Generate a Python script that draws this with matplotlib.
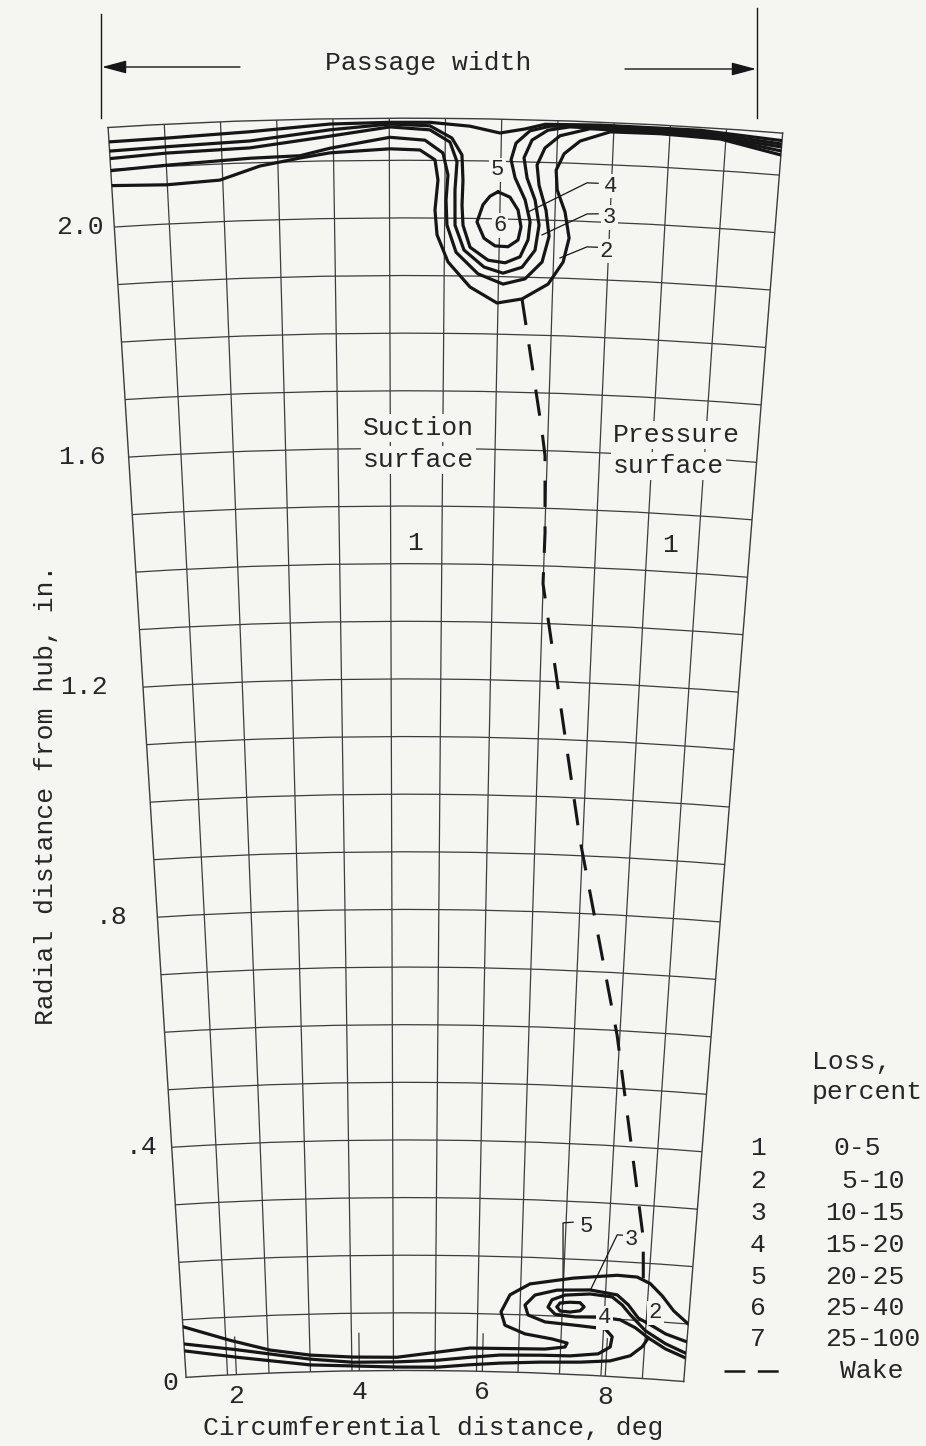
import numpy as np
import matplotlib
matplotlib.use("Agg")
import matplotlib.pyplot as plt

plt.rcParams["font.family"] = ["Liberation Mono", "DejaVu Sans Mono"]
plt.rcParams["lines.scale_dashes"] = False

# ---- chart frame: circumferential position in deg, radial distance from hub in in. ----
deg_left, deg_right = 1.18, 9.28      # edges of the survey grid
deg_up = 4.75                          # circumferential position that points straight up
hub_radius = 6.114                     # in.
span = 2.173                           # hub to casing, in.

grid_deg = np.linspace(deg_left, deg_right, 13)[1:-1]
grid_in = np.round(np.arange(0.1, 2.15, 0.1), 1)
r_ticks = [0.0, 0.4, 0.8, 1.2, 1.6, 2.0]
r_labels = ["0", ".4", ".8", "1.2", "1.6", "2.0"]
deg_ticks = [2, 4, 6, 8]

# ---- loss contours near the casing ----
tip_a_deg = [1.18, 1.876, 2.879, 3.843, 4.564, 5.044, 5.525, 5.887, 6.187, 6.426, 7.087, 8.292, 9.28]
tip_a_in = [2.148, 2.149, 2.154, 2.164, 2.166, 2.166, 2.160, 2.149, 2.157, 2.166, 2.168, 2.168, 2.160]

tip_b_deg = [1.18, 1.871, 2.875, 3.842, 4.564, 5.044, 5.310, 5.433, 5.449, 5.441, 5.456, 5.546, 5.770,
             5.982, 6.165, 6.259, 6.278, 6.210, 6.081, 6.028, 6.083, 6.248, 6.487, 7.088, 8.294, 9.28]
tip_b_in = [2.132, 2.134, 2.138, 2.154, 2.163, 2.160, 2.139, 2.110, 2.066, 2.023, 1.988, 1.950, 1.928,
            1.924, 1.935, 1.965, 1.996, 2.034, 2.072, 2.103, 2.132, 2.154, 2.163, 2.165, 2.165, 2.154]

tip_c_deg = [1.18, 1.867, 2.872, 3.841, 4.564, 5.044, 5.287, 5.374, 5.353, 5.358, 5.472, 5.722, 5.959,
             6.193, 6.348, 6.389, 6.332, 6.227, 6.184, 6.275, 6.464, 6.727, 7.329, 8.295, 9.28]
tip_c_in = [2.119, 2.123, 2.126, 2.143, 2.158, 2.153, 2.132, 2.098, 2.049, 1.988, 1.945, 1.916, 1.906,
            1.917, 1.947, 1.991, 2.034, 2.072, 2.107, 2.138, 2.156, 2.163, 2.162, 2.161, 2.149]

tip_d_deg = [1.18, 1.860, 2.868, 3.474, 3.838, 4.563, 4.985, 5.203, 5.266, 5.245, 5.259, 5.374, 5.649,
             5.962, 6.234, 6.439, 6.516, 6.469, 6.375, 6.344, 6.434, 6.611, 6.969, 7.570, 8.417, 9.28]
tip_d_in = [2.098, 2.102, 2.108, 2.110, 2.122, 2.140, 2.135, 2.113, 2.075, 2.031, 1.988, 1.941, 1.904,
            1.887, 1.897, 1.927, 1.972, 2.017, 2.060, 2.095, 2.125, 2.147, 2.161, 2.160, 2.159, 2.142]

tip_e_deg = [1.18, 1.848, 2.495, 2.987, 3.474, 3.837, 4.563, 4.925, 5.107, 5.145, 5.111, 5.138, 5.276,
             5.552, 5.892, 6.203, 6.522, 6.699, 6.763, 6.702, 6.597, 6.577, 6.667, 6.855, 7.212, 7.812,
             8.540, 9.28]
tip_e_in = [2.072, 2.068, 2.072, 2.094, 2.106, 2.114, 2.120, 2.118, 2.101, 2.066, 2.014, 1.971, 1.924,
            1.881, 1.854, 1.862, 1.889, 1.928, 1.970, 2.015, 2.053, 2.087, 2.116, 2.139, 2.157, 2.158,
            2.155, 2.135]

tip_core_deg = [5.877, 6.025, 6.127, 6.168, 6.135, 6.014, 5.854, 5.716, 5.627, 5.697, 5.781, 5.877]
tip_core_in = [2.047, 2.038, 2.016, 1.987, 1.964, 1.952, 1.953, 1.966, 1.994, 2.024, 2.039, 2.047]

# ---- loss contours near the hub ----
hub_a_deg = [9.28, 9.030, 8.835, 8.631, 8.417, 8.098, 7.404, 6.726, 6.414, 6.278, 6.347, 6.673, 7.111,
             7.356, 7.326, 7.005, 6.601, 5.792, 5.260, 4.612, 3.900, 3.204, 2.559, 1.921, 1.18]
hub_a_in = [0.100, 0.121, 0.145, 0.165, 0.175, 0.176, 0.167, 0.154, 0.134, 0.104, 0.081, 0.067, 0.060,
            0.054, 0.047, 0.042, 0.041, 0.040, 0.032, 0.023, 0.024, 0.029, 0.040, 0.060, 0.088]

hub_b_deg = [9.28, 8.928, 8.675, 8.475, 8.302, 8.117, 7.683, 7.159, 6.812, 6.658, 6.711, 6.988, 7.552,
             7.956, 8.076, 8.053, 7.866, 7.414, 6.928, 6.280, 5.795, 5.261, 4.612, 3.898, 3.202, 2.026, 1.18]
hub_b_in = [0.069, 0.080, 0.094, 0.104, 0.126, 0.142, 0.148, 0.145, 0.135, 0.117, 0.100, 0.089, 0.085,
            0.082, 0.069, 0.051, 0.038, 0.032, 0.031, 0.029, 0.024, 0.018, 0.015, 0.015, 0.022, 0.043, 0.058]

hub_c_deg = [9.28, 8.938, 8.601, 8.344, 8.206, 8.039, 7.686, 7.289, 7.085, 7.026, 7.143, 7.465, 7.865,
             8.189, 8.438, 8.657, 8.944, 9.28]
hub_c_in = [0.049, 0.063, 0.083, 0.109, 0.125, 0.138, 0.141, 0.137, 0.128, 0.115, 0.103, 0.100, 0.102,
            0.099, 0.087, 0.071, 0.054, 0.041]

hub_d_deg = [1.18, 2.020, 3.199, 4.612, 5.262, 5.797, 6.283, 6.932, 7.581, 8.066, 8.386, 8.570, 8.657]
hub_d_in = [0.046, 0.030, 0.012, 0.006, 0.006, 0.011, 0.015, 0.019, 0.022, 0.027, 0.038, 0.055, 0.071]

hub_core_deg = [7.170, 7.215, 7.374, 7.534, 7.601, 7.540, 7.381, 7.221, 7.170]
hub_core_in = [0.116, 0.123, 0.125, 0.125, 0.118, 0.111, 0.108, 0.109, 0.116]

# ---- blade wake ----
wake_deg = [6.203, 6.502, 6.551, 6.583, 6.578, 7.216, 7.891, 8.472]
wake_in = [1.862, 1.634, 1.591, 1.457, 1.369, 0.927, 0.591, 0.243]
wake_end_deg = [8.487, 8.512]
wake_end_in = [0.217, 0.176]

# ---- contour labels: (text, deg, in.) and their leader lines ----
tip_labels = [("5", 5.861, 2.085), ("6", 5.910, 1.989), ("4", 7.239, 2.063),
              ("3", 7.244, 2.008), ("2", 7.224, 1.950)]
hub_labels = [("5", 7.569, 0.258), ("3", 8.286, 0.239), ("4", 7.931, 0.101), ("2", 8.742, 0.115)]
leaders = [
    ([6.249, 6.958, 7.092], [2.013, 2.067, 2.067]),
    ([6.429, 6.972, 7.107], [1.974, 2.013, 2.014]),
    ([6.659, 6.988, 7.123], [1.935, 1.956, 1.956]),
    ([7.264, 7.208, 7.364], [0.121, 0.262, 0.264]),
    ([7.684, 8.062, 8.156], [0.147, 0.246, 0.246]),
]
surface_labels = [("Suction", 4.205, 1.636), ("surface", 4.201, 1.580),
                  ("Pressure", 7.416, 1.632), ("surface", 7.435, 1.578)]
region_labels = [("1", 4.875, 1.436), ("1", 8.235, 1.446)]

legend_keys = ["1", "2", "3", "4", "5", "6", "7"]
legend_ranges = ["0-5", "5-10", "10-15", "15-20", "20-25", "25-40", "25-100"]

# ---- drawing ----
W, H = 926, 1446
BG = "#f5f5f2"
INK = "#161616"
GRID = "#3c3c3c"
TXT = "#262626"
FS = 19


def th(d):
    return np.radians(np.asarray(d, dtype=float))


fig = plt.figure(figsize=(W / 100, H / 100), dpi=100)
fig.patch.set_facecolor(BG)
ax = fig.add_axes([-0.2011, 0.0446, 1.3643, 0.8737], projection="polar")
ax.set_facecolor(BG)

contours = [(tip_a_deg, tip_a_in), (tip_b_deg, tip_b_in), (tip_c_deg, tip_c_in),
            (tip_d_deg, tip_d_in), (tip_e_deg, tip_e_in), (tip_core_deg, tip_core_in),
            (hub_a_deg, hub_a_in), (hub_b_deg, hub_b_in), (hub_c_deg, hub_c_in),
            (hub_d_deg, hub_d_in), (hub_core_deg, hub_core_in)]
for dd, rr in contours:
    ax.plot(th(dd), rr, color=INK, lw=2.3, solid_joinstyle="round",
            solid_capstyle="round", zorder=3)

ax.plot(th(wake_deg), wake_in, color=INK, lw=2.2, dashes=(19, 14), zorder=3)
ax.plot(th(wake_end_deg), wake_end_in, color=INK, lw=2.2, zorder=3)

for dd, rr in leaders:
    ax.plot(th(dd), rr, color=INK, lw=0.9, zorder=3)

for v in deg_ticks:
    ax.plot(th([v, v]), [0.0, 0.065], color=GRID, lw=0.9, zorder=2)

box = dict(boxstyle="square,pad=0.08", fc=BG, ec="none")
for s, d, r in tip_labels + hub_labels:
    ax.text(th(d), r, s, fontsize=16, color=TXT, ha="center", va="center",
            bbox=box, zorder=5)
for s, d, r in surface_labels:
    ax.text(th(d), r, s, fontsize=FS, color=TXT, ha="left", va="center",
            bbox=box, zorder=5)
for s, d, r in region_labels:
    ax.text(th(d), r, s, fontsize=FS, color=TXT, ha="center", va="center", zorder=5)

ax.set_theta_direction(-1)
ax.set_theta_offset(np.pi / 2 + np.radians(deg_up))
ax.set_thetamin(deg_left)
ax.set_thetamax(deg_right)
ax.set_rorigin(-hub_radius)
ax.set_rlim(0, span)
ax.set_thetagrids(grid_deg, labels=[""] * len(grid_deg))
ax.set_rgrids(grid_in, labels=[""] * len(grid_in))
ax.grid(True, color=GRID, lw=0.9)
ax.tick_params(length=0)
for sp in ax.spines.values():
    sp.set_edgecolor(GRID)
    sp.set_linewidth(1.0)


def fit_axes(targets):
    # scale/shift the polar box so that two grid corners land where they sit in the scan
    pts = ax.transData.transform([(th(deg_left), span), (th(deg_right), 0.0)])
    bb = ax.get_position()
    side = bb.width * W
    org = np.array([bb.x0 * W, bb.y0 * H])
    u = (pts - org) / side
    tgt = np.array([[tx, H - ty] for tx, ty in targets])
    side2 = side * np.linalg.norm(tgt[1] - tgt[0]) / np.linalg.norm(pts[1] - pts[0])
    org2 = tgt[0] - side2 * u[0]
    ax.set_position([org2[0] / W, org2[1] / H, side2 / W, side2 / H])


fit_axes([(108.1, 127.5), (683.8, 1381.5)])

# overlay in pixel units for the page furniture
ov = fig.add_axes([0, 0, 1, 1])
ov.set_xlim(0, W)
ov.set_ylim(H, 0)
ov.axis("off")

# radial tick labels
for v, lab, xc in zip(r_ticks, r_labels, [170, 141, 112, 84, 82, 80]):
    _, yd = ax.transData.transform((th(deg_left), v))
    ov.text(xc, H - yd + (6 if v == 0 else 0), lab, fontsize=FS, color=TXT,
            ha="center", va="center")

# circumferential tick labels
for v in deg_ticks:
    xd, yd = ax.transData.transform((th(v), 0.0))
    ov.text(xd, H - yd + 21, str(v), fontsize=FS, color=TXT, ha="center", va="center")

ov.text(433, 1428, "Circumferential distance, deg", fontsize=FS, color=TXT,
        ha="center", va="center")
ov.text(46, 795, "Radial distance from hub, in.", fontsize=FS, color=TXT,
        ha="center", va="center", rotation=90)

# passage width marker
ov.plot([101, 101], [14, 118], color=INK, lw=1.0)
ov.plot([757, 757], [8, 118], color=INK, lw=1.0)
arrow = dict(arrowstyle="-|>,head_length=0.75,head_width=0.2", color=INK, lw=1.0,
             shrinkA=0, shrinkB=0, mutation_scale=20)
ov.annotate("", xy=(102, 67), xytext=(240, 67), arrowprops=arrow)
ov.annotate("", xy=(756, 69), xytext=(625, 69), arrowprops=arrow)
ov.text(428, 63, "Passage width", fontsize=FS, color=TXT, ha="center", va="center")

# legend
ov.text(812, 1062, "Loss,", fontsize=FS, color=TXT, ha="left", va="center")
ov.text(812, 1092, "percent", fontsize=FS, color=TXT, ha="left", va="center")
row_y = [1148, 1181, 1213, 1245, 1277, 1308, 1339]
range_x = [857, 873, 865, 865, 865, 865, 873]
for k, rng, y, xr in zip(legend_keys, legend_ranges, row_y, range_x):
    ov.text(758, y, k, fontsize=FS, color=TXT, ha="center", va="center")
    ov.text(xr, y, rng, fontsize=FS, color=TXT, ha="center", va="center")
ov.plot([724, 780], [1371, 1371], color=INK, lw=1.8, dashes=(15, 9))
ov.text(872, 1371, "Wake", fontsize=FS, color=TXT, ha="center", va="center")

fig.savefig("out.png", dpi=100, facecolor=BG)
